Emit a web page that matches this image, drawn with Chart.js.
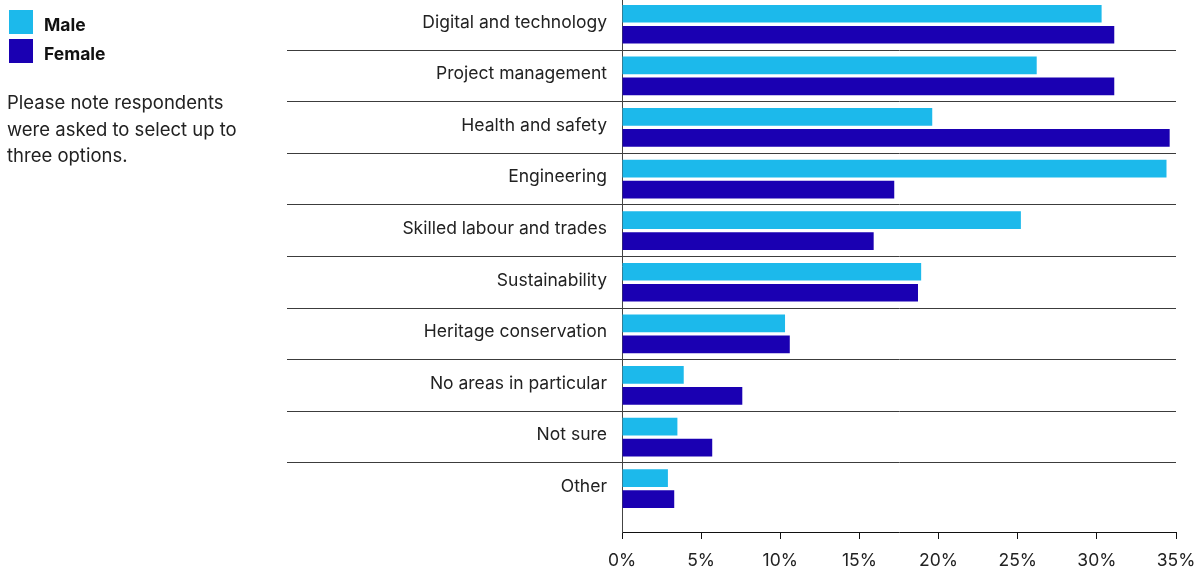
<!DOCTYPE html>
<html>
<head>
<meta charset="utf-8">
<script src="https://cdn.jsdelivr.net/npm/chart.js@4.4.1/dist/chart.umd.min.js"></script>
<style>
  body { margin: 0; background: #fff; }
  #wrap { position: relative; width: 1203px; height: 569px; }
  #note {
    position: absolute; left: 7px; top: 89px;
    font: 18.5px Inter, sans-serif; line-height: 26.5px; color: #222;
  }
</style>
</head>
<body>
<div id="wrap">
  <canvas id="graph"></canvas>
  <div id="note">Please note respondents<br>were asked to select up to<br>three options.</div>
</div>
<script>
const categories = [
  'Digital and technology',
  'Project management',
  'Health and safety',
  'Engineering',
  'Skilled labour and trades',
  'Sustainability',
  'Heritage conservation',
  'No areas in particular',
  'Not sure',
  'Other'
];
const male = [30.3, 26.2, 19.6, 34.4, 25.2, 18.9, 10.3, 3.9, 3.5, 2.9];
const female = [31.1, 31.1, 34.6, 17.2, 15.9, 18.7, 10.6, 7.6, 5.7, 3.3];
const xTicks = [0, 5, 10, 15, 20, 25, 30, 35];

// where the plot starts, labels sit to the left of this
const axisLeft = 622;

Chart.defaults.font.family = 'Inter';

// y is a plain number axis (one step per category) so the x axis can sit a bit below the last row
const rows = (values) => values.map((v, i) => ({ x: v, y: i }));

// legend in the top left corner, square swatch then bold label
const cornerLegend = {
  id: 'cornerLegend',
  afterDraw(chart) {
    const ctx = chart.ctx;
    ctx.save();
    ctx.font = 'bold 17.5px Inter';
    ctx.textBaseline = 'middle';
    chart.data.datasets.forEach((ds, i) => {
      const top = 10 + i * 29;
      ctx.fillStyle = ds.backgroundColor;
      ctx.fillRect(9, top, 24, 24);
      ctx.fillStyle = '#111';
      ctx.fillText(ds.label, 44, top + 16);
    });
    ctx.restore();
  }
};

new Chart(document.querySelector('#graph'), {
  type: 'bar',
  data: {
    datasets: [
      { label: 'Male', data: rows(male), backgroundColor: '#1cb9eb', borderWidth: 0 },
      { label: 'Female', data: rows(female), backgroundColor: '#1a00b2', borderWidth: 0 }
    ]
  },
  options: {
    indexAxis: 'y',
    responsive: true,
    maintainAspectRatio: false,
    animation: false,
    categoryPercentage: 0.814,
    barPercentage: 0.843,
    layout: { padding: { left: 0, top: 0, right: 27, bottom: 0 } },
    plugins: {
      tooltip: { enabled: false },
      legend: { display: false }
    },
    scales: {
      x: {
        min: xTicks[0],
        max: xTicks[xTicks.length - 1],
        afterBuildTicks: (scale) => { scale.ticks = xTicks.map((v) => ({ value: v })); },
        afterFit: (scale) => {
          scale.height = 37;
          // the "35%" label fits inside the layout padding already
          scale.paddingRight = 0;
        },
        ticks: {
          callback: (v) => v + '%',
          padding: 11,
          color: '#222',
          font: { size: 17.5 }
        },
        grid: { drawOnChartArea: false, tickLength: 7, color: '#111' },
        border: { color: '#111', width: 1 }
      },
      y: {
        type: 'linear',
        reverse: true,
        offset: false,
        bounds: 'data',
        min: -0.47,
        max: 9.84,
        afterBuildTicks: (scale) => { scale.ticks = categories.map((c, i) => ({ value: i })); },
        afterFit: (scale) => { scale.width = axisLeft; },
        ticks: {
          autoSkip: false,
          callback: (v) => categories[v],
          // long tick marks run the row lines under the labels, pull the text back next to the axis
          padding: -320,
          labelOffset: -2,
          color: '#222',
          font: { size: 17.5 }
        },
        grid: {
          offset: true,
          tickLength: 335,
          color: (ctx) => ctx.type === 'tick' ? '#3c3c3c' : 'rgba(0,0,0,0)'
        },
        border: { color: '#444', width: 1 }
      }
    }
  },
  plugins: [cornerLegend]
});
</script>
</body>
</html>
